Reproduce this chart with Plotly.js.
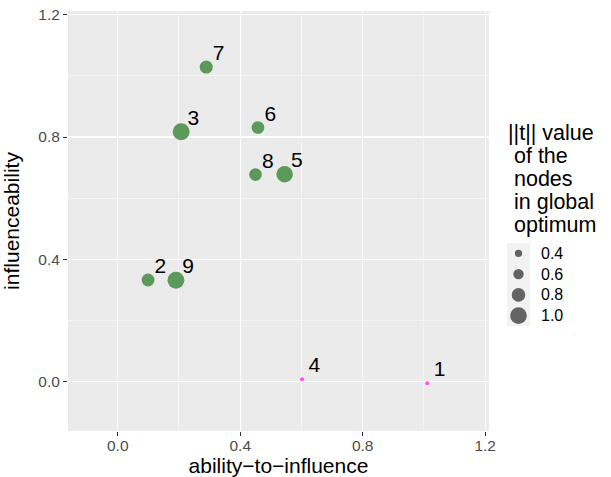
<!DOCTYPE html>
<html>
<head>
<meta charset="utf-8">
<script src="https://cdn.plot.ly/plotly-3.0.1.min.js"></script>
<style>html,body{margin:0;padding:0;background:#fff;}#chart{width:611px;height:477px;}</style>
</head>
<body>
<div id="chart"></div>
<script>
// ---- data ----
var nodeLabels = ["1", "2", "3", "4", "5", "6", "7", "8", "9"];
var abilityToInfluence = [1.011, 0.099, 0.207, 0.602, 0.545, 0.458, 0.289, 0.450, 0.190];
var influenceability = [-0.006, 0.332, 0.817, 0.007, 0.678, 0.831, 1.029, 0.677, 0.331];
var tValue = [0.19, 0.76, 1.02, 0.20, 0.99, 0.75, 0.77, 0.74, 1.01];
var nodeGroup = ["B", "A", "A", "B", "A", "A", "A", "A", "A"];
var legendBreaks = [0.4, 0.6, 0.8, 1.0];
var legendBreakLabels = ["0.4", "0.6", "0.8", "1.0"];
var xTickVals = [0.0, 0.4, 0.8, 1.2];
var xTickText = ["0.0", "0.4", "0.8", "1.2"];
var yTickVals = [0.0, 0.4, 0.8, 1.2];
var yTickText = ["0.0", "0.4", "0.8", "1.2"];

// ---- styles ----
var FONT = "Liberation Sans, Arial, sans-serif";
var groupColor = {A: "#5B9A5B", B: "#FF55EE"};
var DMIN = 4, DMAX = 17;
var tMin = Math.min.apply(null, tValue), tMax = Math.max.apply(null, tValue);
function diam(v) { return DMIN + (DMAX - DMIN) * (v - tMin) / (tMax - tMin); }
var NUDGE = 0.04;

var pointTrace = {
  type: "scatter", mode: "markers",
  x: abilityToInfluence, y: influenceability,
  marker: {
    size: tValue.map(diam),
    opacity: 1,
    color: nodeGroup.map(function (g) { return groupColor[g]; }),
    line: {width: 0}
  },
  hoverinfo: "x+y", showlegend: false
};
var labelTrace = {
  type: "scatter", mode: "text",
  x: abilityToInfluence.map(function (v) { return v + NUDGE; }),
  y: influenceability.map(function (v) { return v + NUDGE; }),
  text: nodeLabels,
  textposition: "middle center",
  textfont: {family: FONT, size: 21, color: "#000000"},
  hoverinfo: "skip", showlegend: false
};

// legend drawn with shapes + annotations (paper coords)
var W = 611, H = 477;
var mL = 68, mR = 122, mT = 11, mB = 46;
var pw = W - mL - mR, ph = H - mT - mB;
function px(xp) { return (xp - mL) / pw; }
function py(yp) { return (H - mB - yp) / ph; }

var shapes = [];
var annotations = [];
var keyX0 = 507, keyX1 = 530, keyTop = 243, keyH = 20.75;
shapes.push({type: "rect", xref: "paper", yref: "paper",
  x0: px(keyX0), x1: px(keyX1), y0: py(keyTop + keyH * legendBreaks.length), y1: py(keyTop),
  fillcolor: "#F2F2F2", line: {width: 0}, layer: "above"});
legendBreaks.forEach(function (b, i) {
  var cx = (keyX0 + keyX1) / 2, cy = keyTop + keyH * (i + 0.5);
  var r = diam(b) / 2;
  shapes.push({type: "circle", xref: "paper", yref: "paper",
    x0: px(cx - r), x1: px(cx + r), y0: py(cy + r), y1: py(cy - r),
    fillcolor: "#636363", line: {width: 0}, layer: "above"});
  annotations.push({xref: "paper", yref: "paper", x: px(539), y: py(cy),
    xanchor: "left", yanchor: "middle", showarrow: false, text: legendBreakLabels[i],
    font: {family: FONT, size: 16, color: "#000000"}});
});
var titleLines = ["||t|| value", "\u00A0of the", "\u00A0nodes", "\u00A0in global", "\u00A0optimum"];
titleLines.forEach(function (t, i) {
  annotations.push({xref: "paper", yref: "paper", x: px(506), y: py(133 + 23 * i),
    xanchor: "left", yanchor: "middle", showarrow: false, text: t,
    font: {family: FONT, size: 21.5, color: "#000000"}});
});

var axisCommon = {
  showgrid: true, gridcolor: "#FFFFFF", gridwidth: 1.2,
  zeroline: false, showline: false,
  ticks: "outside", ticklen: 4, tickwidth: 1, tickcolor: "#333333",
  tickfont: {family: FONT, size: 15.5, color: "#4D4D4D"},
  minor: {dtick: 0.4, tick0: 0.2, showgrid: true, gridcolor: "#FFFFFF", gridwidth: 0.5, ticks: ""},
  fixedrange: true
};

var layout = {
  width: W, height: H,
  margin: {l: mL, r: mR, t: mT, b: mB, pad: 0},
  paper_bgcolor: "#FFFFFF", plot_bgcolor: "#EBEBEB",
  showlegend: false,
  xaxis: Object.assign({}, axisCommon, {
    range: [-0.1625, 1.2125], tickmode: "array", tickvals: xTickVals, ticktext: xTickText,
    ticklabelstandoff: -4,
    title: {text: "ability\u2212to\u2212influence", standoff: 0,
      font: {family: FONT, size: 21, color: "#000000"}},
    automargin: false
  }),
  yaxis: Object.assign({}, axisCommon, {
    range: [-0.1625, 1.2125], tickmode: "array", tickvals: yTickVals, ticktext: yTickText,
    title: {text: "influenceability",
      font: {family: FONT, size: 21, color: "#000000"}},
    automargin: false
  }),
  shapes: shapes,
  annotations: annotations
};

Plotly.newPlot("chart", [pointTrace, labelTrace], layout, {displayModeBar: false, staticPlot: true});
</script>
</body>
</html>
